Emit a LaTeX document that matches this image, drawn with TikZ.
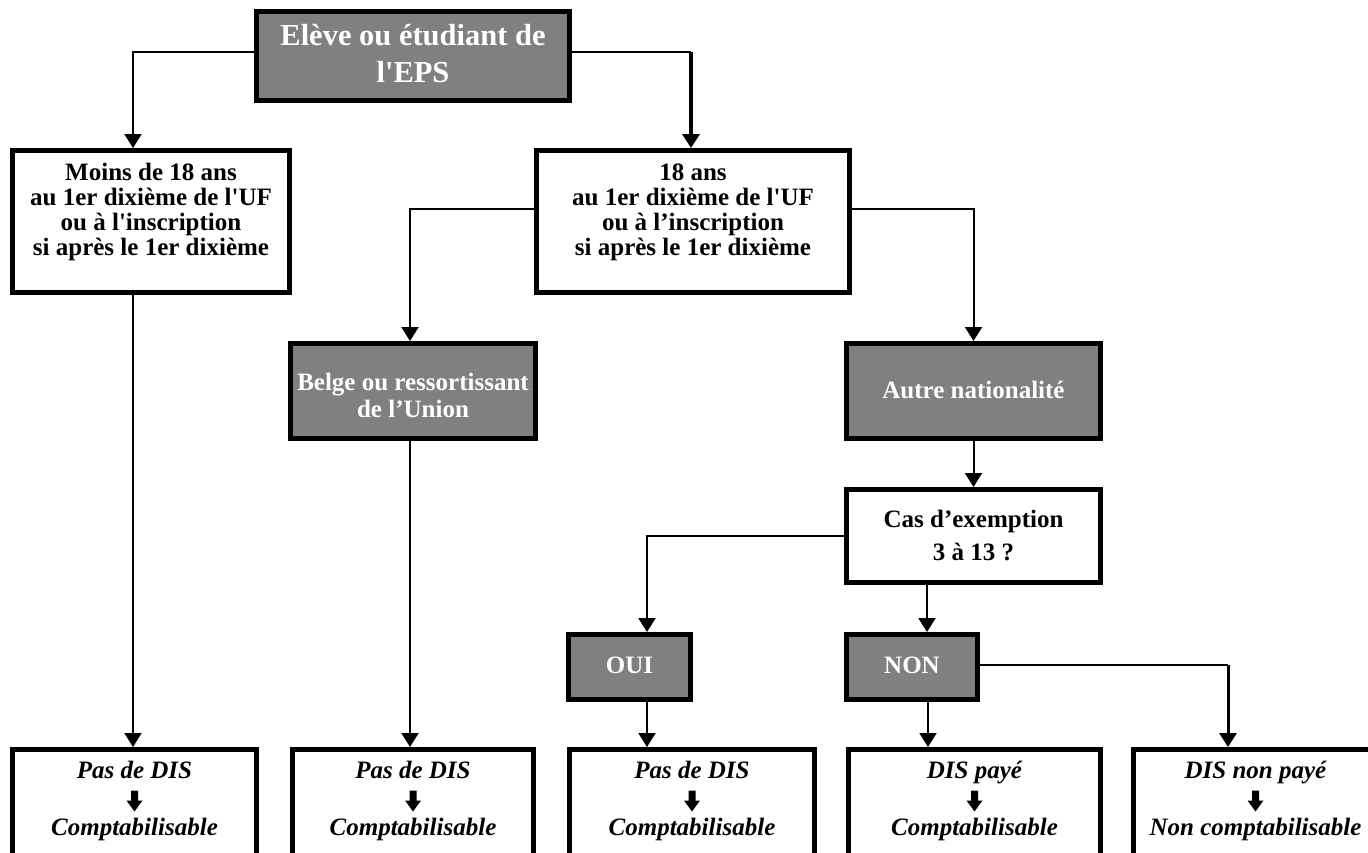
\documentclass[tikz,border=0pt]{standalone}
\usepackage{fontspec}
\setmainfont{Liberation Serif}[Ligatures=TeXOff]
\usetikzlibrary{arrows.meta}
\definecolor{boxgrey}{HTML}{808080}
\newcommand\tstrut[1]{\rule{0pt}{#1pt}}
\newcommand\bstrut[1]{\rule[-#1pt]{0pt}{#1pt}}
\newcommand\fs[2]{\fontsize{#1}{#2}\selectfont\bfseries}
\newcommand\dnarr{\tikz[baseline=0pt,x=1pt,y=1pt]\fill[black] (-3.5,16) -- (3.5,16) -- (3.5,6) -- (8,6) -- (0,-5) -- (-8,6) -- (-3.5,6) -- cycle;}
\tikzset{
  wbox/.style={draw=black, line width=5pt, inner sep=0pt, anchor=north, align=center, fill=white, text=black},
  gbox/.style={wbox, fill=boxgrey, text=white},
  resbox/.style={wbox, font=\fontsize{25}{28.5}\selectfont\bfseries\itshape},
  conn/.style={line width=2pt},
  arr/.style={conn, -{Triangle[width=17pt,length=14pt]}},
}
\begin{document}
\begin{tikzpicture}[x=1pt,y=-1pt]
\useasboundingbox (0,0) rectangle (1368,852);
\clip (0,0) rectangle (1368,852);
\fill[white] (0,0) rectangle (1368,852);

% boxes (north anchor = outer edge of the border)
\node[gbox, minimum width=313pt, font=\fs{30.5}{37}] (top) at (413,9)
  {\tstrut{33.5}Elève ou étudiant de\\l'EPS\bstrut{18.5}};
\node[wbox, minimum width=277pt, font=\fs{25}{25}] (moins) at (151,148)
  {\tstrut{29.5}Moins de 18 ans\\au 1er dixième de l'UF\\ou à l'inscription\\si après le 1er dixième\bstrut{37.5}};
\node[wbox, minimum width=313pt, font=\fs{25}{25}] (ans18) at (693,148)
  {\tstrut{29.5}18 ans\\au 1er dixième de l'UF\\ou à l’inscription\\si après le 1er dixième\bstrut{37.5}};
\node[gbox, minimum width=245pt, font=\fs{25}{27}] (belge) at (413,341)
  {\tstrut{46.5}Belge ou ressortissant\\de l’Union\bstrut{21.5}};
\node[gbox, minimum width=254pt, font=\fs{25}{25}] (autre) at (973.5,341)
  {\tstrut{54.5}Autre nationalité\bstrut{40.5}};
\node[wbox, minimum width=254pt, font=\fs{25}{33}] (cas) at (973.5,487)
  {\tstrut{37.5}Cas d’exemption\\3 à 13 ?\bstrut{22.5}};
\node[gbox, minimum width=122pt, font=\fs{25}{25}] (oui) at (629.5,632)
  {\tstrut{38.5}OUI\bstrut{26.5}};
\node[gbox, minimum width=131pt, font=\fs{25}{25}] (non) at (912,632)
  {\tstrut{38.5}NON\bstrut{26.5}};

\node[resbox, minimum width=244pt] (b1) at (134.5,747)
  {\tstrut{28.5}Pas de DIS\\\dnarr\\Comptabilisable\bstrut{45}};
\node[resbox, minimum width=241pt] (b2) at (413,747)
  {\tstrut{28.5}Pas de DIS\\\dnarr\\Comptabilisable\bstrut{45}};
\node[resbox, minimum width=245pt] (b3) at (692,747)
  {\tstrut{28.5}Pas de DIS\\\dnarr\\Comptabilisable\bstrut{45}};
\node[resbox, minimum width=252pt] (b4) at (974.5,747)
  {\tstrut{28.5}DIS payé\\\dnarr\\Comptabilisable\bstrut{45}};
\node[resbox, minimum width=244pt] (b5) at (1255.5,747)
  {\tstrut{28.5}DIS non payé\\\dnarr\\Non comptabilisable\bstrut{45}};

% connectors
\coordinate (cTR) at (691,52);
\coordinate (cNR) at (1228,665);
\draw[arr] ([yshift=4pt]top.west) -| ([xshift=-18pt]moins.north);
\draw[conn] ([yshift=4pt]top.east) -- (cTR);
\draw[arr, line width=3.5pt] (cTR) -- (cTR |- ans18.north);
\draw[arr] ([yshift=12.5pt]ans18.west) -| ([xshift=-3pt]belge.north);
\draw[arr] ([yshift=12.5pt]ans18.east) -| (autre.north);
\draw[arr] ([xshift=-18pt]moins.south) -- ([xshift=-1.5pt]b1.north);
\draw[arr] ([xshift=-3pt]belge.south) -- ([xshift=-3pt]b2.north);
\draw[arr] (autre.south) -- (cas.north);
\draw[arr] (cas.west) -| ([xshift=17.5pt]oui.north);
\draw[arr] ([xshift=-46.5pt]cas.south) -- ([xshift=15pt]non.north);
\draw[arr] ([xshift=17.5pt]oui.south) -- ([xshift=-45pt]b3.north);
\draw[arr] ([xshift=16pt]non.south) -- ([xshift=-46.5pt]b4.north);
\draw[conn] ([yshift=2pt]non.east) -- (cNR);
\draw[arr, line width=3pt] (cNR) -- (cNR |- b5.north);
\end{tikzpicture}
\end{document}
